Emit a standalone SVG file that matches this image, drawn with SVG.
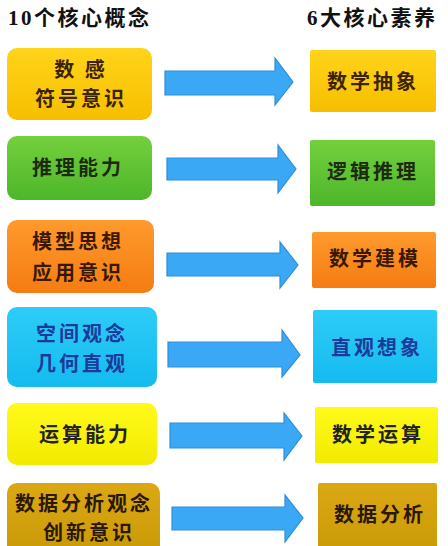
<svg xmlns="http://www.w3.org/2000/svg" width="448" height="546" viewBox="0 0 448 546">
<style>
.t{font-family:"Noto Sans CJK SC","Liberation Sans",sans-serif;font-weight:bold;font-size:20px;letter-spacing:3px;text-anchor:middle}
.h{font-family:"Liberation Serif","Noto Sans CJK SC",serif;font-weight:bold;font-size:21px;fill:#111}
.arrow{fill:#3AA8F4;stroke:#2C8EDC;stroke-width:1.2}
</style>
<defs>
<linearGradient id="gy" x1="0" y1="0" x2="0" y2="1"><stop offset="0" stop-color="#FFD41A"/><stop offset="1" stop-color="#F7BE00"/></linearGradient>
<linearGradient id="gg" x1="0" y1="0" x2="0" y2="1"><stop offset="0" stop-color="#74D03C"/><stop offset="1" stop-color="#4DB62A"/></linearGradient>
<linearGradient id="go" x1="0" y1="0" x2="0" y2="1"><stop offset="0" stop-color="#FF9A2C"/><stop offset="1" stop-color="#F57C12"/></linearGradient>
<linearGradient id="gc" x1="0" y1="0" x2="0" y2="1"><stop offset="0" stop-color="#2ECCF8"/><stop offset="1" stop-color="#14BBEF"/></linearGradient>
<linearGradient id="gb" x1="0" y1="0" x2="0" y2="1"><stop offset="0" stop-color="#FFFA1A"/><stop offset="1" stop-color="#F2EA00"/></linearGradient>
<linearGradient id="gd" x1="0" y1="0" x2="0" y2="1"><stop offset="0" stop-color="#DBA814"/><stop offset="1" stop-color="#C99A06"/></linearGradient>
</defs>
<rect width="448" height="546" fill="#fff"/>
<text class="h" x="8" y="25" letter-spacing="2.5">10个核心概念</text>
<text class="h" x="307" y="25" letter-spacing="2.5">6大核心素养</text>

<g id="connectors">
<path class="arrow" d="M165 71H275V58L293 82L275 105V95H165Z"/>
<path class="arrow" d="M167 158H278V145L296 169L278 193V180H167Z"/>
<path class="arrow" d="M167 253H280V242L298 265L280 288V276H167Z"/>
<path class="arrow" d="M168 342H282V330L300 355L282 377V367H168Z"/>
<path class="arrow" d="M170 423H284V413L302 436L284 460V448H170Z"/>
<path class="arrow" d="M172 507H285V495L303 518L285 542V530H172Z"/>
</g>

<g id="c1"><rect x="7" y="48" width="145" height="72" rx="10" fill="url(#gy)"/>
<text class="t" x="81" y="77" fill="#3B2300">数 感</text>
<text class="t" x="81" y="106" fill="#3B2300">符号意识</text></g>
<g id="s1"><rect x="310" y="50" width="126" height="62" rx="2" fill="url(#gy)"/>
<text class="t" x="373" y="89" fill="#3B2300">数学抽象</text></g>

<g id="c2"><rect x="7" y="136" width="145" height="64" rx="10" fill="url(#gg)"/>
<text class="t" x="78" y="175" fill="#1E2A10">推理能力</text></g>
<g id="s2"><rect x="310" y="140" width="125" height="66" rx="2" fill="url(#gg)"/>
<text class="t" x="373" y="179" fill="#1E2A10">逻辑推理</text></g>

<g id="c3"><rect x="7" y="220" width="147" height="73" rx="10" fill="url(#go)"/>
<text class="t" x="78" y="249" fill="#3A1800">模型思想</text>
<text class="t" x="78" y="280" fill="#3A1800">应用意识</text></g>
<g id="s3"><rect x="312" y="232" width="124" height="56" rx="2" fill="url(#go)"/>
<text class="t" x="375" y="266" fill="#3A1800">数学建模</text></g>

<g id="c4"><rect x="7" y="307" width="150" height="80" rx="10" fill="url(#gc)"/>
<text class="t" x="82" y="341" fill="#1C3A9A">空间观念</text>
<text class="t" x="82" y="371" fill="#1C3A9A">几何直观</text></g>
<g id="s4"><rect x="313" y="310" width="124" height="73" rx="2" fill="url(#gc)"/>
<text class="t" x="377" y="355" fill="#1C3A9A">直观想象</text></g>

<g id="c5"><rect x="7" y="403" width="150" height="62" rx="10" fill="url(#gb)"/>
<text class="t" x="85" y="442" fill="#222">运算能力</text></g>
<g id="s5"><rect x="315" y="407" width="123" height="56" rx="2" fill="url(#gb)"/>
<text class="t" x="378" y="442" fill="#222">数学运算</text></g>

<g id="c6"><rect x="7" y="483" width="153" height="72" rx="10" fill="url(#gd)"/>
<text class="t" x="84" y="511" fill="#2A1800">数据分析观念</text>
<text class="t" x="89" y="540" fill="#2A1800">创新意识</text></g>
<g id="s6"><rect x="318" y="483" width="119" height="72" rx="2" fill="url(#gd)"/>
<text class="t" x="380" y="522" fill="#2A1800">数据分析</text></g>
</svg>
